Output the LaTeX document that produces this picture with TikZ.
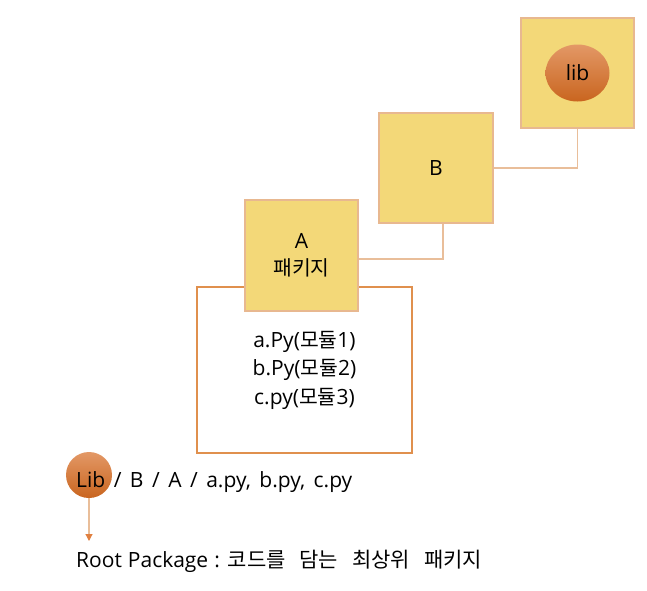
\documentclass[tikz,border=0pt]{standalone}
\usepackage{fontspec}
\setmainfont{Open Sans}
\newfontfamily\kr{Noto Sans CJK KR}[Scale=0.97]
\newfontfamily\krr{Noto Sans CJK KR}[Scale=1.0]
\newcommand\ko[1]{{\kr #1}}
\usetikzlibrary{shapes.geometric,arrows.meta}
\definecolor{boxfill}{HTML}{F3D878}
\definecolor{boxline}{HTML}{E8B890}
\definecolor{connline}{HTML}{E9BE9A}
\definecolor{outerline}{HTML}{E0904E}
\definecolor{ballTop}{HTML}{E39866}
\definecolor{ballBot}{HTML}{C9651F}
\definecolor{arrowtip}{HTML}{E08040}
\tikzset{
  pkgbox/.style={draw=boxline, line width=1.2pt, fill=boxfill, minimum width=113pt, minimum height=110pt, inner sep=0pt, align=center, font=\fontsize{21}{27}\selectfont},
  conn/.style={draw=connline, line width=1.1pt},
  outerbox/.style={draw=outerline, line width=1.3pt, minimum width=215pt, minimum height=166pt, inner sep=0pt, align=center, font=\fontsize{21}{28.5}\selectfont},
  ball/.style={ellipse, top color=ballTop, bottom color=ballBot, draw=none, inner sep=0pt},
  txt/.style={inner sep=0pt, font={\fontsize{21}{27}\selectfont\spaceskip=8.5pt\relax}}
}
\begin{document}
\begin{tikzpicture}[x=1pt,y=-1pt]
\useasboundingbox (0,0) rectangle (647,590);
% outer module box
\node[outerbox] (mods) at (304.5,370) {a.Py(\ko{모듈}1)\\b.Py(\ko{모듈}2)\\c.py(\ko{모듈}3)};
% package boxes
\node[pkgbox] (libbox) at (577.5,73) {};
\node[ball, minimum width=64pt, minimum height=57pt] (libball) at (577.5,73) {};
\node[txt] (libtxt) at (577.5,73) {lib};
\node[pkgbox, minimum width=114pt] (B) at (436,168) {B};
\node[pkgbox, minimum height=111pt] (A) at (301.5,255.5) {A\\\ko{패키지}};
% connectors
\draw[conn] (B.east) -| (libbox.south);
\draw[conn] ([yshift=-3.5pt]A.east) -| ([xshift=7pt]B.south);
% path line
\node[ball, circle, minimum size=46pt] (rootball) at (89,475) {};
\node[txt, anchor=base west] (path) at (76,487) {Lib / B / A / a.py, b.py, c.py};
\coordinate (tip) at (89,541);
\draw[conn, -{Triangle[length=7pt,width=7pt,color=arrowtip,fill=arrowtip]}] (rootball.south) -- (tip);
\node[txt, anchor=base west] (root) at (76,567) {\spaceskip=6pt\relax Root Package : {\krr 코드를\hspace{8pt} 담는\hspace{8pt} 최상위\hspace{8pt} 패키지}};
\end{tikzpicture}
\end{document}
